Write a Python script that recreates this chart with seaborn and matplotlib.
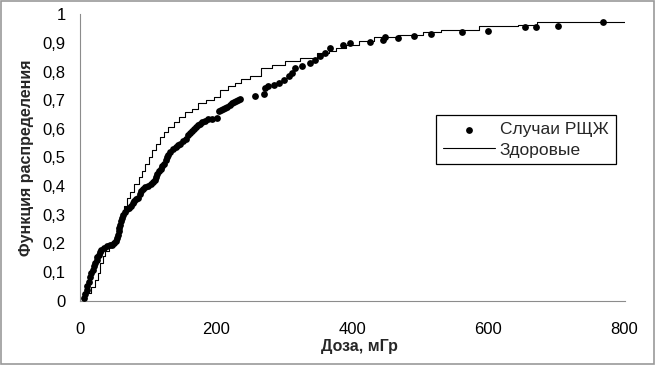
import matplotlib
matplotlib.use("Agg")
import matplotlib.pyplot as plt
import matplotlib.ticker as mticker
from matplotlib.patches import Rectangle
import seaborn as sns

# Случаи РЩЖ: доза (мГр) и значение функции распределения
case_dose = [6, 8, 10, 11, 13, 15, 17, 19, 21, 23, 25, 26, 28, 30, 32, 35, 40, 44, 47, 50,
             53, 55, 56, 57, 58, 59, 60, 62, 64, 66, 69, 72, 76, 78, 80, 83, 85, 88, 90, 93,
             96, 100, 104, 107, 110, 112, 114, 117, 119, 121, 124, 126, 128, 130, 133, 137,
             141, 144, 148, 152, 156, 159, 162, 165, 168, 171, 174, 177, 180, 184, 188, 194,
             201, 205, 208, 211, 214, 217, 220, 224, 227, 230, 233, 236, 257, 270, 272, 277,
             285, 292, 300, 307, 312, 316, 326, 338, 346, 353, 360, 368, 386, 397, 427, 446,
             449, 467, 491, 516, 562, 599, 654, 670, 703, 768]
case_cdf = [0.008, 0.022, 0.038, 0.052, 0.067, 0.082, 0.096, 0.108, 0.12, 0.132, 0.143, 0.152,
            0.161, 0.17, 0.176, 0.184, 0.19, 0.193, 0.196, 0.2, 0.208, 0.22, 0.231, 0.243,
            0.255, 0.266, 0.278, 0.29, 0.30, 0.31, 0.319, 0.325, 0.331, 0.34, 0.349, 0.355,
            0.36, 0.372, 0.384, 0.39, 0.396, 0.402, 0.407, 0.415, 0.423, 0.433, 0.443, 0.452,
            0.46, 0.469, 0.478, 0.49, 0.501, 0.51, 0.519, 0.528, 0.536, 0.542, 0.548, 0.557,
            0.566, 0.577, 0.587, 0.593, 0.599, 0.606, 0.613, 0.618, 0.624, 0.629, 0.634, 0.634,
            0.638, 0.662, 0.665, 0.669, 0.673, 0.677, 0.683, 0.689, 0.693, 0.697, 0.70, 0.704,
            0.714, 0.721, 0.742, 0.749, 0.752, 0.759, 0.77, 0.784, 0.794, 0.812, 0.819, 0.83,
            0.84, 0.855, 0.865, 0.883, 0.893, 0.90, 0.904, 0.911, 0.921, 0.918, 0.925, 0.932,
            0.939, 0.943, 0.957, 0.957, 0.96, 0.974]

# Здоровые: ступенчатая кривая
healthy_dose = [7, 12, 20, 25, 28, 32, 35, 40, 47, 53, 56, 59, 62, 67, 71, 76, 84, 89, 94,
                99, 104, 109, 114, 121, 127, 133, 143, 148, 160, 170, 178, 193, 202, 210, 225,
                232, 242, 259, 274, 292, 311, 337, 360, 371, 381, 400, 420, 445, 489, 519,
                541, 633, 655, 689, 800]
healthy_cdf = [0.0, 0.026, 0.049, 0.073, 0.096, 0.131, 0.155, 0.173, 0.19, 0.208, 0.237,
               0.272, 0.307, 0.331, 0.36, 0.378, 0.407, 0.431, 0.454, 0.478, 0.501, 0.525,
               0.548, 0.572, 0.589, 0.607, 0.624, 0.642, 0.66, 0.671, 0.689, 0.701, 0.712,
               0.736, 0.748, 0.759, 0.775, 0.783, 0.812, 0.823, 0.837, 0.847, 0.865, 0.872,
               0.883, 0.893, 0.907, 0.921, 0.928, 0.939, 0.946, 0.96, 0.964, 0.974, 0.974]

sns.set_style("white")
plt.rcParams['font.family'] = ['Liberation Sans', 'DejaVu Sans']

fig = plt.figure(figsize=(6.56, 3.65), dpi=100)
ax = fig.add_axes([0.1215, 0.176, 0.8305, 0.785])

sns.scatterplot(x=case_dose, y=case_cdf, ax=ax, color='black', s=24,
                edgecolor='black', linewidth=0, label='Случаи РЩЖ', zorder=3)
sns.lineplot(x=healthy_dose, y=healthy_cdf, ax=ax, color='black', linewidth=0.8,
             drawstyle='steps-mid', label='Здоровые', zorder=2)

ax.set_xlim(0, 800)
ax.set_ylim(0, 1)
ax.set_xticks([0, 200, 400, 600, 800])
ax.set_yticks([i / 10 for i in range(11)])


def comma_fmt(v, pos):
    if abs(v) < 1e-9 or abs(v - 1) < 1e-9:
        return f"{v:.0f}"
    return f"{v:.1f}".replace('.', ',')


ax.yaxis.set_major_formatter(mticker.FuncFormatter(comma_fmt))

for side in ['top', 'right']:
    ax.spines[side].set_visible(False)
for side in ['left', 'bottom']:
    ax.spines[side].set_color('#8c8c8c')
    ax.spines[side].set_linewidth(0.8)
ax.tick_params(axis='both', direction='out', length=4, width=0.8, color='#8c8c8c',
               labelsize=12, labelcolor='black')
ax.tick_params(axis='x', pad=11)
ax.tick_params(axis='y', pad=6)

ax.set_xlabel('Доза, мГр', fontsize=11.5, fontweight='bold', labelpad=3)
ax.xaxis.set_label_coords(0.514, -0.135)
ax.set_ylabel('Функция распределения', fontsize=11.5, fontweight='bold', labelpad=6)

leg = ax.legend(loc='upper left', bbox_to_anchor=(0.654, 0.648), borderaxespad=0,
                frameon=True, fancybox=False, edgecolor='black', framealpha=1,
                fontsize=12.5, handlelength=3.0, handletextpad=0.28, borderpad=0.4,
                labelspacing=0.3)
leg.get_frame().set_linewidth(0.9)

fig.patches.append(Rectangle((0.002, 0.003), 0.995, 0.994, transform=fig.transFigure,
                             fill=False, edgecolor='#999999', linewidth=1.2))

fig.savefig('out.png', dpi=100)
